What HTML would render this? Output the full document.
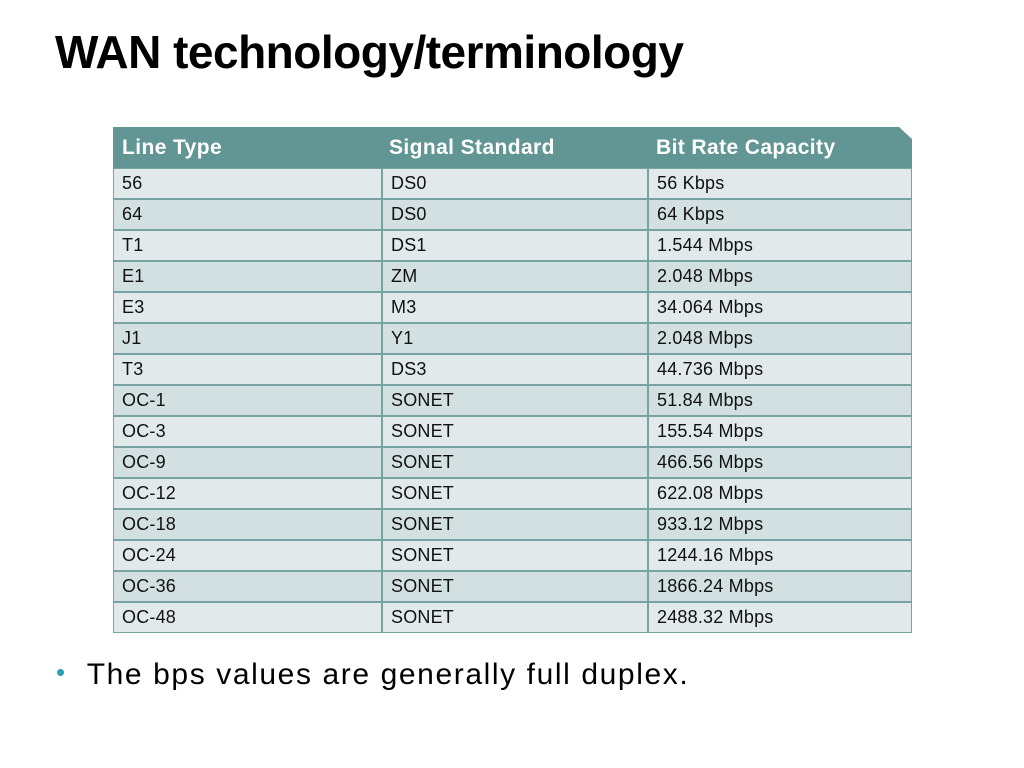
<!DOCTYPE html>
<html><head><meta charset="utf-8"><style>
body{margin:0;width:1024px;height:768px;background:#fff;position:relative;overflow:hidden;font-family:"Liberation Sans",sans-serif;}
#title{position:absolute;left:55px;top:25px;font-size:46px;font-weight:bold;color:#000;letter-spacing:-0.5px;}
#tbl{position:absolute;left:113px;top:127px;width:799px;height:507px;}
.hdr{position:absolute;left:0;top:0;width:799px;height:41px;background:#629694;clip-path:polygon(0 0,786px 0,799px 12px,799px 41px,0 41px);}
.hc{position:absolute;top:9px;font-size:21px;font-weight:bold;color:#fff;letter-spacing:0.4px;}
.row{position:absolute;left:0;width:797px;height:29px;border:1px solid #76a4a3;}
.cell{position:absolute;top:0;height:29px;line-height:29px;font-size:18px;color:#111;padding-left:8px;box-sizing:border-box;letter-spacing:0.2px;}
.c2,.c3{border-left:2px solid #76a4a3;}
#bullet{position:absolute;left:56px;top:658px;font-size:30px;color:#000;letter-spacing:1.6px;}
#bullet span{color:#2aa0b0;font-size:26px;margin-right:20px;position:relative;top:-3px;}
</style></head><body>
<div id="title">WAN technology/terminology</div>
<div id="tbl">
<div class="hdr">
<div class="hc" style="left:9px">Line Type</div>
<div class="hc" style="left:276px">Signal Standard</div>
<div class="hc" style="left:543px">Bit Rate Capacity</div>
</div>
</div>
<div id="bullet"><span>•</span>The bps values are generally full duplex.</div>
<script>
const lineTypes=["56","64","T1","E1","E3","J1","T3","OC-1","OC-3","OC-9","OC-12","OC-18","OC-24","OC-36","OC-48"];
const signals=["DS0","DS0","DS1","ZM","M3","Y1","DS3","SONET","SONET","SONET","SONET","SONET","SONET","SONET","SONET"];
const rates=["56 Kbps","64 Kbps","1.544 Mbps","2.048 Mbps","34.064 Mbps","2.048 Mbps","44.736 Mbps","51.84 Mbps","155.54 Mbps","466.56 Mbps","622.08 Mbps","933.12 Mbps","1244.16 Mbps","1866.24 Mbps","2488.32 Mbps"];
const tbl=document.getElementById('tbl');
lineTypes.forEach((lt,i)=>{
const r=document.createElement('div');
r.className='row';


r.style.top=(41+i*31)+'px';
r.style.background=i%2==0?'#e1e9ea':'#d2e0e1';
[[lt,0,267,'c1'],[signals[i],267,266,'c2'],[rates[i],533,264,'c3']].forEach(([t,l,w,c])=>{
const d=document.createElement('div');
d.className='cell '+c;


d.style.left=l+'px';d.style.width=w+'px';
d.textContent=t;r.appendChild(d);});
tbl.appendChild(r);});
</script>
</body></html>
